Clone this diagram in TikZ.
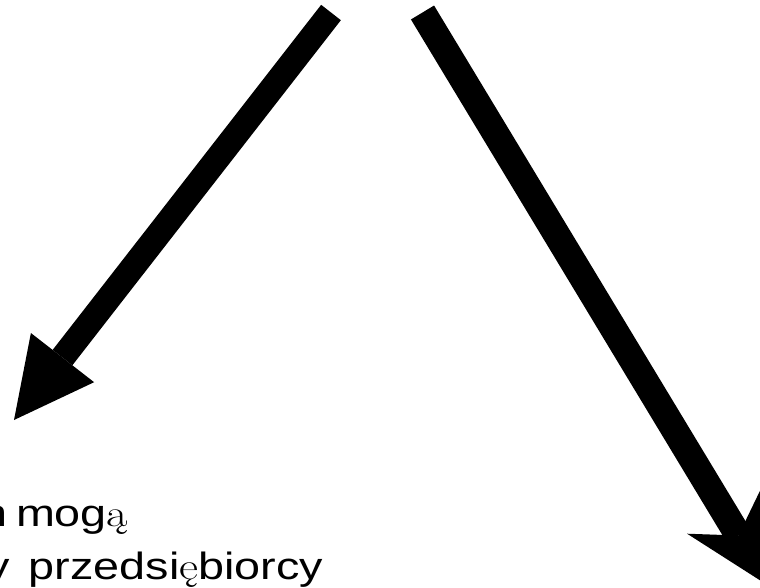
\documentclass[tikz,border=0pt]{standalone}
\usepackage{fontspec}
\newfontfamily\arialfont{Liberation Sans}
\usetikzlibrary{calc}
\tikzset{
  shaft/.style={draw=black, line width=#1, line cap=butt},
  headfill/.style={fill=black},
  txt/.style={inner sep=0pt, outer sep=0pt, anchor=base west, font=\arialfont\fontsize{38}{44}\selectfont}
}
\begin{document}
\begin{tikzpicture}[x=1pt,y=-1pt]
\useasboundingbox (0,0) rectangle (760,587);
\clip (0,0) rectangle (760,587);
% left arrow
\coordinate (s1) at (331,12.5);
\coordinate (b1) at (62.5,357.6);
\coordinate (t1) at (14,420);
\coordinate (l1a) at (94.1,382.2);
\coordinate (l1b) at (30.9,333.0);
\draw[shaft=25pt] (s1) -- (b1);
\fill[headfill] (t1) -- (l1a) -- (l1b) -- cycle;
% right arrow
\coordinate (s2) at (422.5,12.5);
\coordinate (j2) at (738.4,535.5);
\coordinate (t2) at (768.9,586);
\coordinate (r2a) at (687.1,533.7);
\coordinate (r2b) at (760.7,489.3);
\draw[shaft=27pt] (s2) -- (j2);
\fill[headfill] (t2) -- (r2a) -- (j2) -- (r2b) -- cycle;
% text
\node[txt] (line1) at (-18,526) {\scalebox{1.23}[1]{n\hspace{-4pt} mog{\rmfamily ą}}};
\node[txt] (line2) at (-13.6,579) {\scalebox{1.23}[1]{y\hspace{5pt} przedsi{\rmfamily ę}biorcy}};
\end{tikzpicture}
\end{document}
